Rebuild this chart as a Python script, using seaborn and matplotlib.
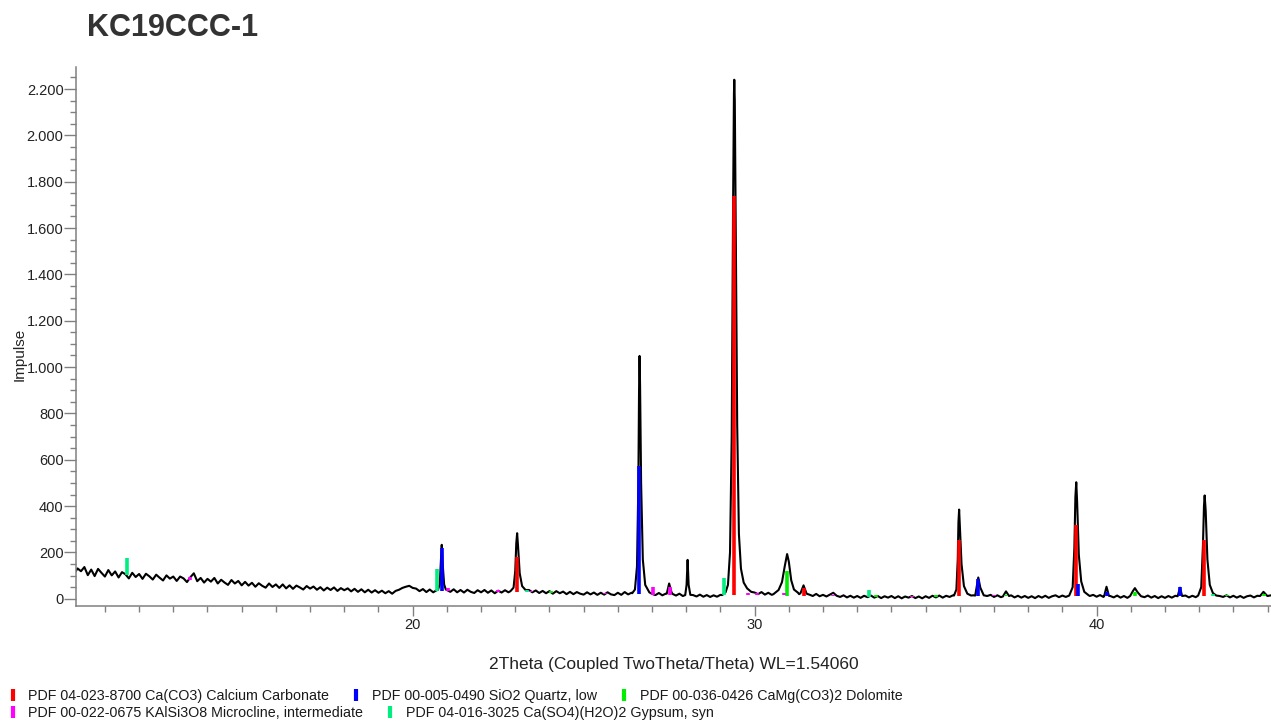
import numpy as np
import pandas as pd
import matplotlib
matplotlib.use("Agg")
import matplotlib.pyplot as plt
from matplotlib.lines import Line2D
from matplotlib.ticker import MultipleLocator, FuncFormatter
import seaborn as sns

# Measured trace, background sampled every 0.1 deg starting at 10.1 deg 2Theta
bg_start = 10.1
bg_counts = [
    108, 131, 119, 137, 102, 126, 98, 129, 112, 96,     # 10.1 - 11.0
    124, 101, 118, 92, 115, 106, 88, 112, 94, 107,      # 11.1 - 12.0
    86, 108, 97, 83, 104, 91, 79, 101, 87, 96,          # 12.1 - 13.0
    77, 96, 88, 72, 93, 110, 76, 90, 70, 86,            # 13.1 - 14.0
    74, 90, 66, 82, 70, 60, 81, 66, 77, 58,             # 14.1 - 15.0
    73, 57, 69, 52, 67, 56, 48, 66, 51, 62,             # 15.1 - 16.0
    47, 62, 45, 58, 43, 57, 49, 40, 55, 44,             # 16.1 - 17.0
    53, 39, 50, 36, 48, 38, 49, 34, 46, 37,             # 17.1 - 18.0
    45, 32, 43, 30, 41, 28, 39, 27, 37, 26,             # 18.1 - 19.0
    35, 24, 33, 22, 34, 39, 47, 52, 56, 47,             # 19.1 - 20.0
    44, 33, 42, 29, 40, 28, 37, 38, 37, 38,             # 20.1 - 21.0
    30, 41, 28, 38, 27, 39, 30, 25, 37, 28,             # 21.1 - 22.0
    38, 26, 36, 24, 35, 27, 37, 28, 32, 32,             # 22.1 - 23.0
    33, 32, 30, 38, 28, 36, 25, 34, 24, 33,             # 23.1 - 24.0
    22, 33, 24, 31, 20, 30, 20, 29, 22, 18,             # 24.1 - 25.0
    28, 19, 27, 17, 26, 18, 28, 19, 16, 26,             # 25.1 - 26.0
    17, 29, 19, 26, 22, 22, 22, 22, 22, 21,             # 26.1 - 27.0
    16, 25, 15, 22, 20, 21, 14, 22, 12, 16,             # 27.1 - 28.0
    19, 16, 10, 18, 9, 16, 8, 15, 9, 17,                # 28.1 - 29.0
    15, 15, 15, 15, 15, 15, 15, 15, 15, 27,             # 29.1 - 30.0
    20, 29, 18, 26, 17, 20, 20, 20, 20, 20,             # 30.1 - 31.0
    20, 20, 20, 18, 18, 18, 12, 21, 11, 17,             # 31.1 - 32.0
    10, 18, 26, 13, 8, 15, 6, 13, 5, 12,                # 32.1 - 33.0
    4, 13, 7, 14, 5, 12, 3, 11, 5, 12,                  # 33.1 - 34.0
    3, 11, 2, 10, 5, 12, 3, 10, 2, 11,                  # 34.1 - 35.0
    4, 13, 6, 14, 5, 13, 8, 15, 12, 12,                 # 35.1 - 36.0
    12, 12, 12, 15, 12, 12, 12, 12, 17, 8,              # 36.1 - 37.0
    15, 7, 13, 10, 15, 6, 13, 5, 12, 4,                 # 37.1 - 38.0
    11, 3, 12, 5, 13, 4, 11, 15, 7, 14,                 # 38.1 - 39.0
    8, 12, 12, 12, 12, 12, 12, 12, 17, 9,               # 39.1 - 40.0
    16, 8, 12, 12, 6, 14, 5, 12, 4, 13,                 # 40.1 - 41.0
    10, 10, 10, 7, 14, 5, 12, 3, 11, 4,                 # 41.1 - 42.0
    12, 5, 13, 10, 7, 14, 6, 13, 7, 15,                 # 42.1 - 43.0
    12, 12, 12, 12, 12, 12, 8, 15, 6, 13,               # 43.1 - 44.0
    5, 12, 4, 11, 14, 6, 13, 17, 12, 12,                # 44.1 - 45.0
    15,                                                 # 45.1
]

# Peak profiles (2Theta, counts)
peak_profiles = [
    [(20.74, 38), (20.79, 62), (20.82, 150), (20.85, 233), (20.88, 145), (20.92, 62), (20.97, 40)],
    [(22.86, 33), (22.95, 48), (23.0, 120), (23.03, 240), (23.055, 283), (23.08, 230), (23.13, 110),
     (23.2, 55), (23.3, 38)],
    [(26.42, 24), (26.5, 40), (26.56, 140), (26.6, 500), (26.62, 900), (26.635, 1048), (26.65, 920),
     (26.68, 500), (26.73, 170), (26.8, 60), (26.92, 28)],
    [(27.43, 22), (27.5, 66), (27.57, 28)],
    [(27.97, 16), (28.01, 60), (28.04, 168), (28.07, 60), (28.12, 17)],
    [(29.05, 16), (29.15, 28), (29.22, 60), (29.28, 200), (29.33, 700), (29.37, 1700), (29.395, 2180),
     (29.405, 2240), (29.42, 2150), (29.45, 1550), (29.49, 750), (29.54, 280), (29.6, 130),
     (29.68, 70), (29.78, 45), (29.9, 30)],
    [(30.55, 20), (30.7, 38), (30.8, 72), (30.88, 140), (30.95, 193), (31.0, 160), (31.07, 80),
     (31.15, 40), (31.27, 26)],
    [(31.34, 24), (31.43, 58), (31.52, 22)],
    [(35.83, 14), (35.9, 40), (35.94, 170), (35.96, 330), (35.98, 385), (36.0, 320), (36.05, 150),
     (36.12, 55), (36.22, 22), (36.33, 14)],
    [(36.45, 14), (36.54, 92), (36.6, 48), (36.7, 15)],
    [(37.26, 10), (37.35, 32), (37.44, 12)],
    [(39.2, 14), (39.3, 50), (39.35, 220), (39.38, 440), (39.405, 503), (39.43, 420), (39.48, 190),
     (39.55, 75), (39.64, 30), (39.76, 16)],
    [(40.22, 11), (40.29, 52), (40.36, 13)],
    [(40.98, 12), (41.06, 33), (41.12, 46), (41.19, 30), (41.3, 11)],
    [(42.37, 11), (42.44, 48), (42.5, 12)],
    [(42.97, 14), (43.06, 50), (43.11, 230), (43.14, 400), (43.16, 446), (43.19, 380), (43.24, 170),
     (43.31, 60), (43.4, 25), (43.5, 14)],
    [(44.78, 12), (44.88, 30), (44.98, 14)],
]

# Background level under the reference sticks
bg_level_theta = [10, 12, 14, 16, 18, 20, 22, 24, 26, 28, 30, 32, 34, 36, 38, 40, 42, 44, 46]
bg_level = [115, 98, 78, 57, 40, 33, 31, 27, 21, 15, 16, 12, 8, 10, 10, 11, 10, 10, 11]

# Reference patterns (stick positions / tops)
calcite_pos = [23.05, 29.40, 31.43, 35.97, 39.40, 43.15]
calcite_top = [180, 1740, 45, 255, 320, 255]
quartz_pos = [20.85, 26.63, 36.54, 39.46, 40.29, 42.44]
quartz_top = [220, 575, 85, 62, 30, 52]
dolomite_pos = [24.05, 30.95, 33.55, 35.3, 37.35, 41.12, 43.8, 44.9]
dolomite_top = [32, 120, 16, 18, 16, 30, 16, 22]
microcline_pos = [13.5, 21.02, 22.5, 23.45, 23.73, 25.63, 27.03, 27.52, 29.8, 30.06, 30.85, 32.3, 34.6, 37.0, 41.8]
microcline_top = [95, 46, 36, 32, 30, 27, 52, 50, 26, 24, 24, 18, 13, 15, 13]
gypsum_pos = [11.65, 20.70, 23.35, 29.10, 33.35, 43.4]
gypsum_top = [178, 130, 40, 88, 40, 20]

phase_labels = [
    "PDF 04-023-8700 Ca(CO3) Calcium Carbonate",
    "PDF 00-005-0490 SiO2 Quartz, low",
    "PDF 00-036-0426 CaMg(CO3)2 Dolomite",
    "PDF 00-022-0675 KAlSi3O8 Microcline, intermediate",
    "PDF 04-016-3025 Ca(SO4)(H2O)2 Gypsum, syn",
]
phase_colors = ["#ff0000", "#0000ff", "#00ee00", "#ff00ff", "#00ee80"]

# Build full trace: background outside peak windows + peak profiles
bg_theta = np.round(bg_start + 0.1 * np.arange(len(bg_counts)), 2)
bg_vals = np.array(bg_counts, dtype=float)
keep = np.ones(len(bg_theta), dtype=bool)
for prof in peak_profiles:
    lo, hi = prof[0][0], prof[-1][0]
    keep &= ~((bg_theta >= lo) & (bg_theta <= hi))
pk_theta = [p[0] for prof in peak_profiles for p in prof]
pk_vals = [p[1] for prof in peak_profiles for p in prof]
df = pd.DataFrame({
    "two_theta": np.concatenate([bg_theta[keep], pk_theta]),
    "impulse": np.concatenate([bg_vals[keep], pk_vals]),
}).sort_values("two_theta").reset_index(drop=True)

sns.set_style("ticks")
plt.rcParams["font.family"] = ["Liberation Sans", "DejaVu Sans"]

fig = plt.figure(figsize=(12.71, 7.22), dpi=100)
ax = fig.add_axes([0.0598, 0.1607, 0.9402, 0.7465])

sns.lineplot(data=df, x="two_theta", y="impulse", color="black", linewidth=1.5,
             estimator=None, sort=True, ax=ax, zorder=2)

phases = [
    (calcite_pos, calcite_top),
    (quartz_pos, quartz_top),
    (dolomite_pos, dolomite_top),
    (microcline_pos, microcline_top),
    (gypsum_pos, gypsum_top),
]
for (pos, top), col in zip(phases, phase_colors):
    base = np.interp(pos, bg_level_theta, bg_level)
    ax.vlines(pos, base, top, colors=col, linewidth=2.6, zorder=3)

ax.set_xlim(10.155, 45.1)
ax.set_ylim(-31, 2295)

ax.xaxis.set_major_locator(MultipleLocator(10))
ax.xaxis.set_minor_locator(MultipleLocator(1))
ax.yaxis.set_major_locator(MultipleLocator(200))
ax.yaxis.set_minor_locator(MultipleLocator(50))
ax.yaxis.set_major_formatter(FuncFormatter(lambda v, p: f"{int(round(v)):,}".replace(",", ".")))

for side in ["top", "right"]:
    ax.spines[side].set_visible(False)
for side in ["left", "bottom"]:
    ax.spines[side].set_color("#808080")
    ax.spines[side].set_linewidth(1.1)

ax.tick_params(axis="y", which="major", length=8.5, width=1, color="#808080",
               pad=0.5, labelsize=10.5, labelcolor="#222222")
ax.tick_params(axis="y", which="minor", length=4.5, width=1, color="#808080")
ax.tick_params(axis="x", which="major", length=7, width=1, color="#808080",
               pad=2, labelsize=10.5, labelcolor="#222222")
ax.tick_params(axis="x", which="minor", length=4.3, width=1, color="#808080")

ax.set_xlabel("2Theta (Coupled TwoTheta/Theta) WL=1.54060", fontsize=12.5, color="#222222")
ax.xaxis.set_label_coords(0.5, -0.095)
ax.set_ylabel("Impulse", fontsize=11, color="#222222")
ax.yaxis.set_label_coords(-0.041, 0.466)

fig.text(0.0685, 0.961, "KC19CCC-1", fontsize=22, fontweight="bold", color="#333333", va="center")

# Two legend rows at the bottom
handles = [Line2D([0], [0], marker="|", linestyle="None", color=c, markersize=9,
                  markeredgewidth=3) for c in phase_colors]
leg_kw = dict(frameon=False, fontsize=10.25, handlelength=0.6, handletextpad=0.8,
              columnspacing=1.6, borderaxespad=0, borderpad=0, loc="center left",
              labelcolor="#1a1a1a")
fig.legend(handles[:3], phase_labels[:3], ncol=3, bbox_to_anchor=(0.0067, 0.036), **leg_kw)
fig.legend(handles[3:], phase_labels[3:], ncol=2, bbox_to_anchor=(0.0067, 0.0125), **leg_kw)

fig.savefig("out.png", dpi=100)
